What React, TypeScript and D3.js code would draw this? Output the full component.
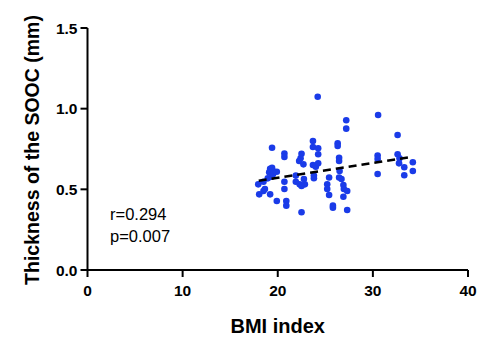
import React from "react";
import * as d3 from "d3";

// BMI vs SOOC thickness
const bmi = [
  24.2, 19.4, 20.7, 20.7, 22.5, 22.4, 22.25, 22.7, 23.7, 23.7, 24.25, 24.25,
  23.7, 24.0, 24.25, 27.2, 27.2, 26.3, 26.3, 26.45, 26.45, 30.55, 30.5, 30.5,
  30.5, 19.4, 19.2, 19.5, 19.1, 19.9, 19.5, 19.35, 18.95, 17.95, 18.5, 18.05,
  18.5, 18.65, 19.2, 19.9, 20.7, 20.7, 20.9, 20.9, 21.9, 21.9, 22.3, 22.75,
  22.85, 22.5, 23.8, 23.8, 25.4, 25.2, 25.2, 25.4, 25.8, 25.8, 26.5, 26.7,
  26.9, 26.95, 26.9, 27.3, 27.3, 26.45, 32.6, 32.6, 32.8, 32.75, 33.3, 34.2,
  34.2, 33.3, 22.5,
];
const sooc = [
  1.074, 0.758, 0.722, 0.7, 0.721, 0.692, 0.676, 0.655, 0.8, 0.762, 0.754,
  0.717, 0.651, 0.64, 0.661, 0.928, 0.876, 0.785, 0.769, 0.696, 0.676, 0.961,
  0.709, 0.688, 0.595, 0.634, 0.627, 0.614, 0.606, 0.609, 0.593, 0.578, 0.568,
  0.531, 0.547, 0.469, 0.49, 0.502, 0.469, 0.428, 0.547, 0.502, 0.428, 0.399,
  0.585, 0.547, 0.531, 0.564, 0.531, 0.358, 0.585, 0.569, 0.573, 0.531, 0.502,
  0.465, 0.399, 0.386, 0.614, 0.564, 0.527, 0.502, 0.454, 0.49, 0.372, 0.573,
  0.837, 0.717, 0.692, 0.661, 0.637, 0.668, 0.614, 0.587, 0.521,
];
const trendX = [18, 34.2];
const trendY = [0.553, 0.702];
const xTicks = [0, 10, 20, 30, 40];
const yTicks = [0, 0.5, 1.0, 1.5];
const stats = ["r=0.294", "p=0.007"];

const W = 485;
const H = 343;
const left = 87.5;
const right = 468;
const top = 28;
const bottom = 270;

export default function App() {
  const x = d3.scaleLinear().domain([0, 40]).range([left, right]);
  const y = d3.scaleLinear().domain([0, 1.5]).range([bottom, top]);
  const line = d3
    .line<number>()
    .x((d) => x(d))
    .y((_, i) => y(trendY[i]));
  const font = "Arial, 'Liberation Sans', sans-serif";

  return (
    <svg
      width={W}
      height={H}
      style={{ position: "absolute", left: 0, top: 0 }}
      fontFamily={font}
    >
      {bmi.map((b, i) => (
        <circle key={i} cx={x(b)} cy={y(sooc[i])} r={3.3} fill="#1a3be8" />
      ))}
      <path
        d={line(trendX) || ""}
        fill="none"
        stroke="#000"
        strokeWidth={2.6}
        strokeDasharray="8,5"
      />

      {/* axes */}
      <line x1={left} x2={left} y1={top} y2={bottom} stroke="#000" strokeWidth={2} />
      <line x1={left} x2={right} y1={bottom} y2={bottom} stroke="#000" strokeWidth={2} />
      {yTicks.map((t) => (
        <g key={t}>
          <line x1={left - 7} x2={left} y1={y(t)} y2={y(t)} stroke="#000" strokeWidth={2} />
          <text
            x={left - 10}
            y={y(t) + 5.5}
            textAnchor="end"
            fontSize={15.5}
            fontWeight="bold"
          >
            {d3.format(".1f")(t)}
          </text>
        </g>
      ))}
      {xTicks.map((t) => (
        <g key={t}>
          <line x1={x(t)} x2={x(t)} y1={bottom} y2={bottom + 7} stroke="#000" strokeWidth={2} />
          <text
            x={x(t)}
            y={bottom + 26}
            textAnchor="middle"
            fontSize={15.5}
            fontWeight="bold"
          >
            {t}
          </text>
        </g>
      ))}

      <text x={(left + right) / 2} y={333} textAnchor="middle" fontSize={20} fontWeight="bold">
        BMI index
      </text>
      <text
        transform={`translate(39,150) rotate(-90)`}
        textAnchor="middle"
        fontSize={19.5}
        fontWeight="bold"
      >
        Thickness of the SOOC (mm)
      </text>

      {stats.map((s, i) => (
        <text key={s} x={110} y={220 + i * 22} fontSize={16.5}>
          {s}
        </text>
      ))}
    </svg>
  );
}
